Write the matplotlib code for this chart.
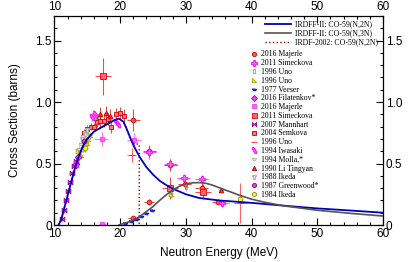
import matplotlib.pyplot as plt
import numpy as np
from matplotlib.ticker import MultipleLocator, FuncFormatter

# evaluated curves
e2n = [10.6, 11, 12, 12.5, 13, 13.5, 14, 14.5, 15, 16, 17, 18, 19, 19.8, 20.5, 21, 22, 23, 24, 25, 26, 27, 28, 30, 32, 35, 40, 45, 50, 55, 60]
s2n = [0, 0.04, 0.24, 0.34, 0.44, 0.53, 0.6, 0.66, 0.7, 0.76, 0.79, 0.82, 0.85, 0.865, 0.84, 0.78, 0.65, 0.55, 0.47, 0.41, 0.36, 0.325, 0.295, 0.25, 0.22, 0.2, 0.18, 0.157, 0.135, 0.118, 0.10]
e3n = [19.8, 21, 22, 23, 24, 25, 26, 27, 28, 29, 30, 31, 32, 33, 34, 35, 36, 38, 40, 42, 45, 50, 55, 60]
s3n = [0, 0.02, 0.04, 0.07, 0.11, 0.15, 0.2, 0.245, 0.285, 0.315, 0.335, 0.343, 0.345, 0.34, 0.325, 0.305, 0.285, 0.245, 0.21, 0.185, 0.155, 0.12, 0.095, 0.073]
e2002 = [10.6, 11, 12, 12.5, 13, 13.5, 14, 14.5, 15, 16, 17, 18, 19, 19.8, 20.5, 21, 21.5, 22, 22.9, 22.9]
s2002 = [0, 0.04, 0.24, 0.34, 0.44, 0.53, 0.6, 0.66, 0.7, 0.76, 0.79, 0.82, 0.85, 0.865, 0.84, 0.78, 0.70, 0.665, 0.655, 0]

# experimental data
maj16_x = [22.0, 24.4, 27.6, 22.0, 24.4, 29.8, 32.4, 34.9]
maj16_y = [0.857, 0.60, 0.49, 0.054, 0.19, 0.335, 0.30, 0.19]
maj16_xe = [1.0, 1.0, 1.0, 0.8, 0.8, 1.0, 1.0, 1.0]
maj16_ye = [0.09, 0.05, 0.05, 0.01, 0.02, 0.04, 0.04, 0.02]

sim11_x = [24.4, 27.6, 29.7, 32.4, 35.5]
sim11_y = [0.59, 0.495, 0.385, 0.375, 0.175]
sim11_xe = [1.0, 1.0, 1.0, 1.0, 1.0]
sim11_ye = [0.05, 0.04, 0.03, 0.03, 0.03]

uno_g_x = [16.4, 27.7, 30.0]
uno_g_y = [0.86, 0.26, 0.31]

uno_y_x = [13.6, 14.0, 14.3, 14.6, 14.9, 15.1, 15.4, 27.7]
uno_y_y = [0.60, 0.57, 0.62, 0.64, 0.67, 0.70, 0.73, 0.25]

veeser_x = [20.8, 21.6, 22.4, 23.2, 24.0, 24.8]
veeser_y = [0.02, 0.035, 0.05, 0.07, 0.10, 0.125]

fil16_x = [13.3, 13.6]
fil16_y = [0.50, 0.55]

maj16b_x = [17.2, 22.1, 17.3]
maj16b_y = [0.70, 0.69, 0.005]
maj16b_xe = [1.0, 1.0, 0.5]
maj16b_ye = [0.06, 0.06, 0.0]

sim11b_x = [17.4, 27.6, 32.6]
sim11b_y = [1.21, 0.30, 0.27]
sim11b_xe = [1.25, 1.2, 1.2]
sim11b_ye = [0.15, 0.09, 0.06]

mann_x = [11.2, 11.5, 11.8, 12.1, 12.4, 12.7, 13.0, 13.3]
mann_y = [0.05, 0.12, 0.2, 0.28, 0.35, 0.42, 0.48, 0.52]

semk_x = [14.5, 15.0, 15.5, 16.0, 16.5, 17.0, 17.6, 18.2, 19.4, 20.0, 20.6, 18.6]
semk_y = [0.75, 0.78, 0.80, 0.80, 0.84, 0.85, 0.85, 0.86, 0.90, 0.91, 0.89, 0.80]
semk_ye = [0.03, 0.03, 0.03, 0.03, 0.04, 0.05, 0.05, 0.05, 0.05, 0.05, 0.05, 0.05]

uno_r_x = [21.75, 38.3]
uno_r_y = [0.57, 0.18]
uno_r_xe = [0.7, 1.0]
uno_r_ye = [0.06, 0.16]

iwa_x = [15.7, 16.1, 19.3, 19.7, 13.2]
iwa_y = [0.88, 0.90, 0.84, 0.82, 0.50]

molla_x = [13.8, 14.1, 14.4, 14.7, 15.0]
molla_y = [0.62, 0.66, 0.72, 0.76, 0.78]

li_x = [16.9, 17.8, 18.4, 35.3]
li_y = [0.90, 0.91, 0.89, 0.285]
li_ye = [0.06, 0.06, 0.05, 0.02]

ikeda88_x = [14.2, 14.6, 14.9]
ikeda88_y = [0.70, 0.74, 0.77]

green_x = [14.5]
green_y = [0.68]

ikeda84_x = [14.7, 38.3]
ikeda84_y = [0.63, 0.21]

fig = plt.figure(figsize=(4.15, 2.62), dpi=100)
ax = fig.add_axes([0.1313, 0.1412, 0.7916, 0.7977])

def ellipse(w, h, ang):
    t = np.linspace(0, 2 * np.pi, 25)
    a = np.radians(ang)
    x, y = w * np.cos(t), h * np.sin(t)
    return np.column_stack([x * np.cos(a) - y * np.sin(a), x * np.sin(a) + y * np.cos(a)])

rect_m = [(-0.35, -1), (0.35, -1), (0.35, 1), (-0.35, 1), (-0.35, -1)]
rtri_m = [(-1, -1), (1, -1), (-1, 1), (-1, -1)]
wedge_m = [(-1, 0.3), (1, 0.1), (0.5, -0.6), (-0.6, -0.5), (-1, 0.3)]
bow_m = [(-1, -1), (1, 1), (1, -1), (-1, 1), (-1, -1)]
boat_m = [(-1, 0.4), (1, 0.4), (0.5, -0.4), (-0.5, -0.4), (-1, 0.4)]
tree_m = [(-1, 1), (1, 1), (1, 0.4), (0.3, 0.4), (0.3, -1), (-0.3, -1), (-0.3, 0.4), (-1, 0.4), (-1, 1)]

def pts(x, y, label, marker, fc, ec, xe=None, ye=None, ms=3.4):
    if xe is None:
        xe = [0.3] * len(x)
    if ye is None:
        ye = [0.03] * len(y)
    ax.errorbar(x, y, xerr=xe, yerr=ye, fmt='none', ecolor=ec, elinewidth=0.8, alpha=0.7, zorder=2)
    return ax.plot(x, y, linestyle='none', marker=marker, markersize=ms, markerfacecolor=fc,
                   markeredgecolor=ec, markeredgewidth=0.6, label=label, zorder=2.5)[0]

h = []
h.append(pts(maj16_x, maj16_y, '2016 Majerle', 'o', '#ff5555', '#dd0000', maj16_xe, maj16_ye))
h.append(pts(sim11_x, sim11_y, '2011 Simeckova', 'P', '#ff66ff', '#ff00ff', sim11_xe, sim11_ye, ms=4.3))
h.append(pts(uno_g_x, uno_g_y, '1996 Uno', rect_m, 'none', '#999999'))
h.append(pts(uno_y_x, uno_y_y, '1996 Uno', rtri_m, '#dddd33', '#aaaa00'))
h.append(pts(veeser_x, veeser_y, '1977 Veeser', wedge_m, '#3344ee', '#0000cc', ye=[0.005] * 6))
h.append(pts(fil16_x, fil16_y, '2016 Filatenkov*', 'D', '#dd55dd', '#aa00cc'))
h.append(pts(maj16b_x, maj16b_y, '2016 Majerle', 's', '#ff66ff', '#ff33ff', maj16b_xe, maj16b_ye))
h.append(pts(sim11b_x, sim11b_y, '2011 Simeckova', 's', '#ff6666', '#ee0000', sim11b_xe, sim11b_ye, ms=4.0))
h.append(pts(mann_x, mann_y, '2007 Mannhart', bow_m, '#cc44cc', '#990099', ye=[0.02] * 8))
h.append(pts(semk_x, semk_y, '2004 Semkova', 's', '#ff7777', '#cc0000', ye=semk_ye, ms=3.2))
h.append(pts(uno_r_x, uno_r_y, '1996 Uno', '_', '#ff2222', '#ff2222', uno_r_xe, uno_r_ye, ms=5))
h.append(pts(iwa_x, iwa_y, '1994 Iwasaki', ellipse(0.35, 1.0, 30), '#ff55ff', '#ff00ff', ms=5))
h.append(pts(molla_x, molla_y, '1994 Molla,*', boat_m, '#eeeeee', '#aaaaaa'))
h.append(pts(li_x, li_y, '1990 Li Tingyan', '^', '#ee3333', '#bb0000', ye=li_ye))
h.append(pts(ikeda88_x, ikeda88_y, '1988 Ikeda', tree_m, '#dddddd', '#aaaaaa'))
h.append(pts(green_x, green_y, '1987 Greenwood*', 'o', '#dd44dd', '#990099'))
h.append(pts(ikeda84_x, ikeda84_y, '1984 Ikeda', 'o', '#eeee44', '#999900'))

l1, = ax.plot(e2n, s2n, color='#0000bb', lw=1.3, zorder=4, label='IRDFF-II: CO-59(N,2N)')
l2, = ax.plot(e3n, s3n, color='#555555', lw=1.2, zorder=4, label='IRDFF-II: CO-59(N,3N)')
l3, = ax.plot(e2002, s2002, color='#990000', lw=1.0, ls=':', zorder=3.5, label='IRDF-2002: CO-59(N,2N)')

leg1 = ax.legend(handles=[l1, l2, l3], loc='upper right', bbox_to_anchor=(1.0, 1.0), frameon=False,
                 prop={'family': 'Liberation Serif', 'size': 5.6}, handlelength=3.3, labelspacing=0.1,
                 borderaxespad=0.2, handletextpad=0.6)
ax.add_artist(leg1)
ax.legend(handles=h, loc='upper left', bbox_to_anchor=(0.585, 0.85), frameon=False,
          prop={'family': 'Liberation Serif', 'size': 5.6}, handlelength=1.0, labelspacing=0.1,
          borderaxespad=0.0, handletextpad=0.4, markerscale=0.9)

ax.set_xlim(10, 60)
ax.set_ylim(0, 1.7)
ax.xaxis.set_major_locator(MultipleLocator(10))
ax.xaxis.set_minor_locator(MultipleLocator(2))
ax.yaxis.set_major_locator(MultipleLocator(0.5))
ax.yaxis.set_minor_locator(MultipleLocator(0.1))
ax.yaxis.set_major_formatter(FuncFormatter(lambda v, p: '0' if v == 0 else f'{v:.1f}'))
ax.tick_params(which='both', direction='in', top=True, right=True, labeltop=True, labelright=True,
               labelsize=8.5, width=0.8)
ax.tick_params(which='major', length=5, pad=2)
ax.tick_params(which='minor', length=2.5)
for lab in ax.get_xticklabels() + ax.get_yticklabels():
    lab.set_family('Liberation Sans')
for s in ax.spines.values():
    s.set_linewidth(0.9)

ax.set_xlabel('Neutron Energy (MeV)', family='Liberation Sans', fontsize=8.5, labelpad=5)
ax.set_ylabel('Cross Section (barns)', family='Liberation Sans', fontsize=8.5, labelpad=10)

fig.savefig('out.png', dpi=100)
